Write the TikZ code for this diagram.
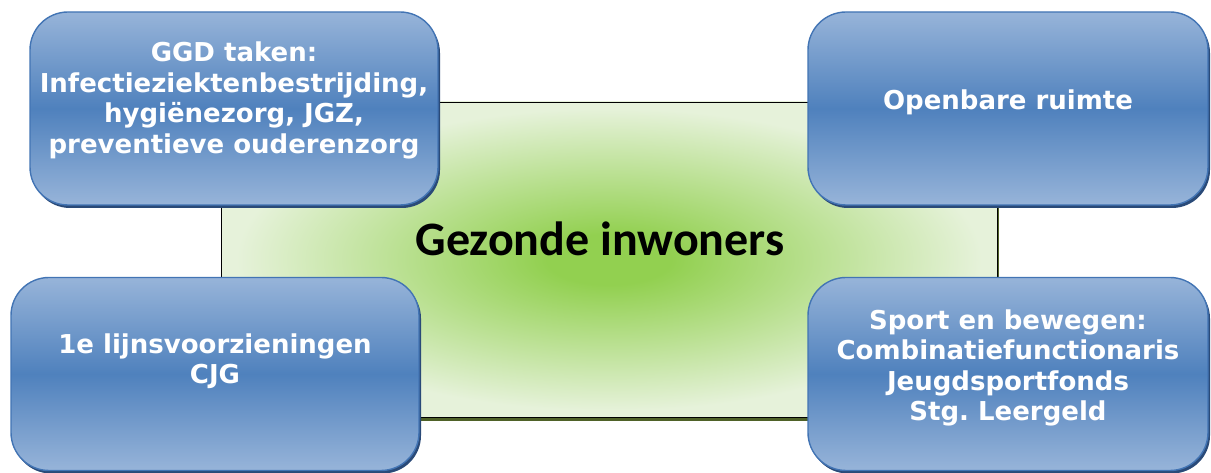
\documentclass[tikz,border=0pt]{standalone}
\usepackage{fontspec}
\setmainfont{DejaVu Sans}
\newfontfamily\calibri{Carlito}
\usetikzlibrary{positioning, shadows, calc}
\definecolor{cblue}{HTML}{4F81BD}
\definecolor{clight}{HTML}{97B4D9}
\definecolor{cedge}{HTML}{4274B4}
\definecolor{cshade}{HTML}{2A4A78}
\definecolor{cgreen}{HTML}{92D050}
\definecolor{cpale}{HTML}{E6F2DA}
\definecolor{colive}{HTML}{4F6228}
\pgfdeclareradialshading{greenglow}{\pgfpoint{0bp}{0bp}}{color(0bp)=(cgreen); color(4bp)=(cgreen); color(13bp)=(cgreen!55!cpale); color(24bp)=(cpale); color(50bp)=(cpale)}
\tikzset{
  every picture/.style={x=1pt, y=1pt, line width=1.4pt},
  tile/.style={draw=cedge, rounded corners=38pt, top color=clight, bottom color=clight, middle color=cblue,
    minimum width=#1, minimum height=193pt, inner sep=0pt,
    drop shadow={shadow xshift=2pt, shadow yshift=-3pt, fill=cshade, opacity=1}},
  tile/.default=404pt,
  tiletext/.style={text=white, font=\bfseries\fontsize{26}{30.5}\selectfont, align=center},
  title/.style={font=\calibri\bfseries\fontsize{48}{52}\selectfont},
}

\begin{document}
\frenchspacing
\begin{tikzpicture}
  \useasboundingbox (0,0) rectangle (1211,473);
  % green field in the middle
  \node (field) [shade, shading=greenglow, draw=black, line width=0.8pt, minimum width=776pt, minimum height=315pt,
    drop shadow={shadow xshift=1.5pt, shadow yshift=-4pt, fill=colive, opacity=1}] at (609,213.5) {};
  \node (title) [title] at (600,234) {Gezonde inwoners};
  % the four tiles
  \foreach \X/\Y/\W/\dy/\txt [count=\k] in {
     234/364.5/408/8/{GGD taken:\\Infectieziektenbestrijding,\\hygiënezorg, JGZ,\\preventieve ouderenzorg},
     1008/364.5/400/6/{Openbare ruimte},
     215/99/408/13/{1e lijnsvoorzieningen\\CJG},
     1008/99/400/6/{Sport en bewegen:\\Combinatiefunctionaris\\Jeugdsportfonds\\Stg. Leergeld}} {
    \node (tile\k) [tile=\W] at (\X,\Y) {};
    \node (text\k) [tiletext] at ($(tile\k.center)+(0,\dy)$) {\txt};
  }
\end{tikzpicture}
\end{document}
